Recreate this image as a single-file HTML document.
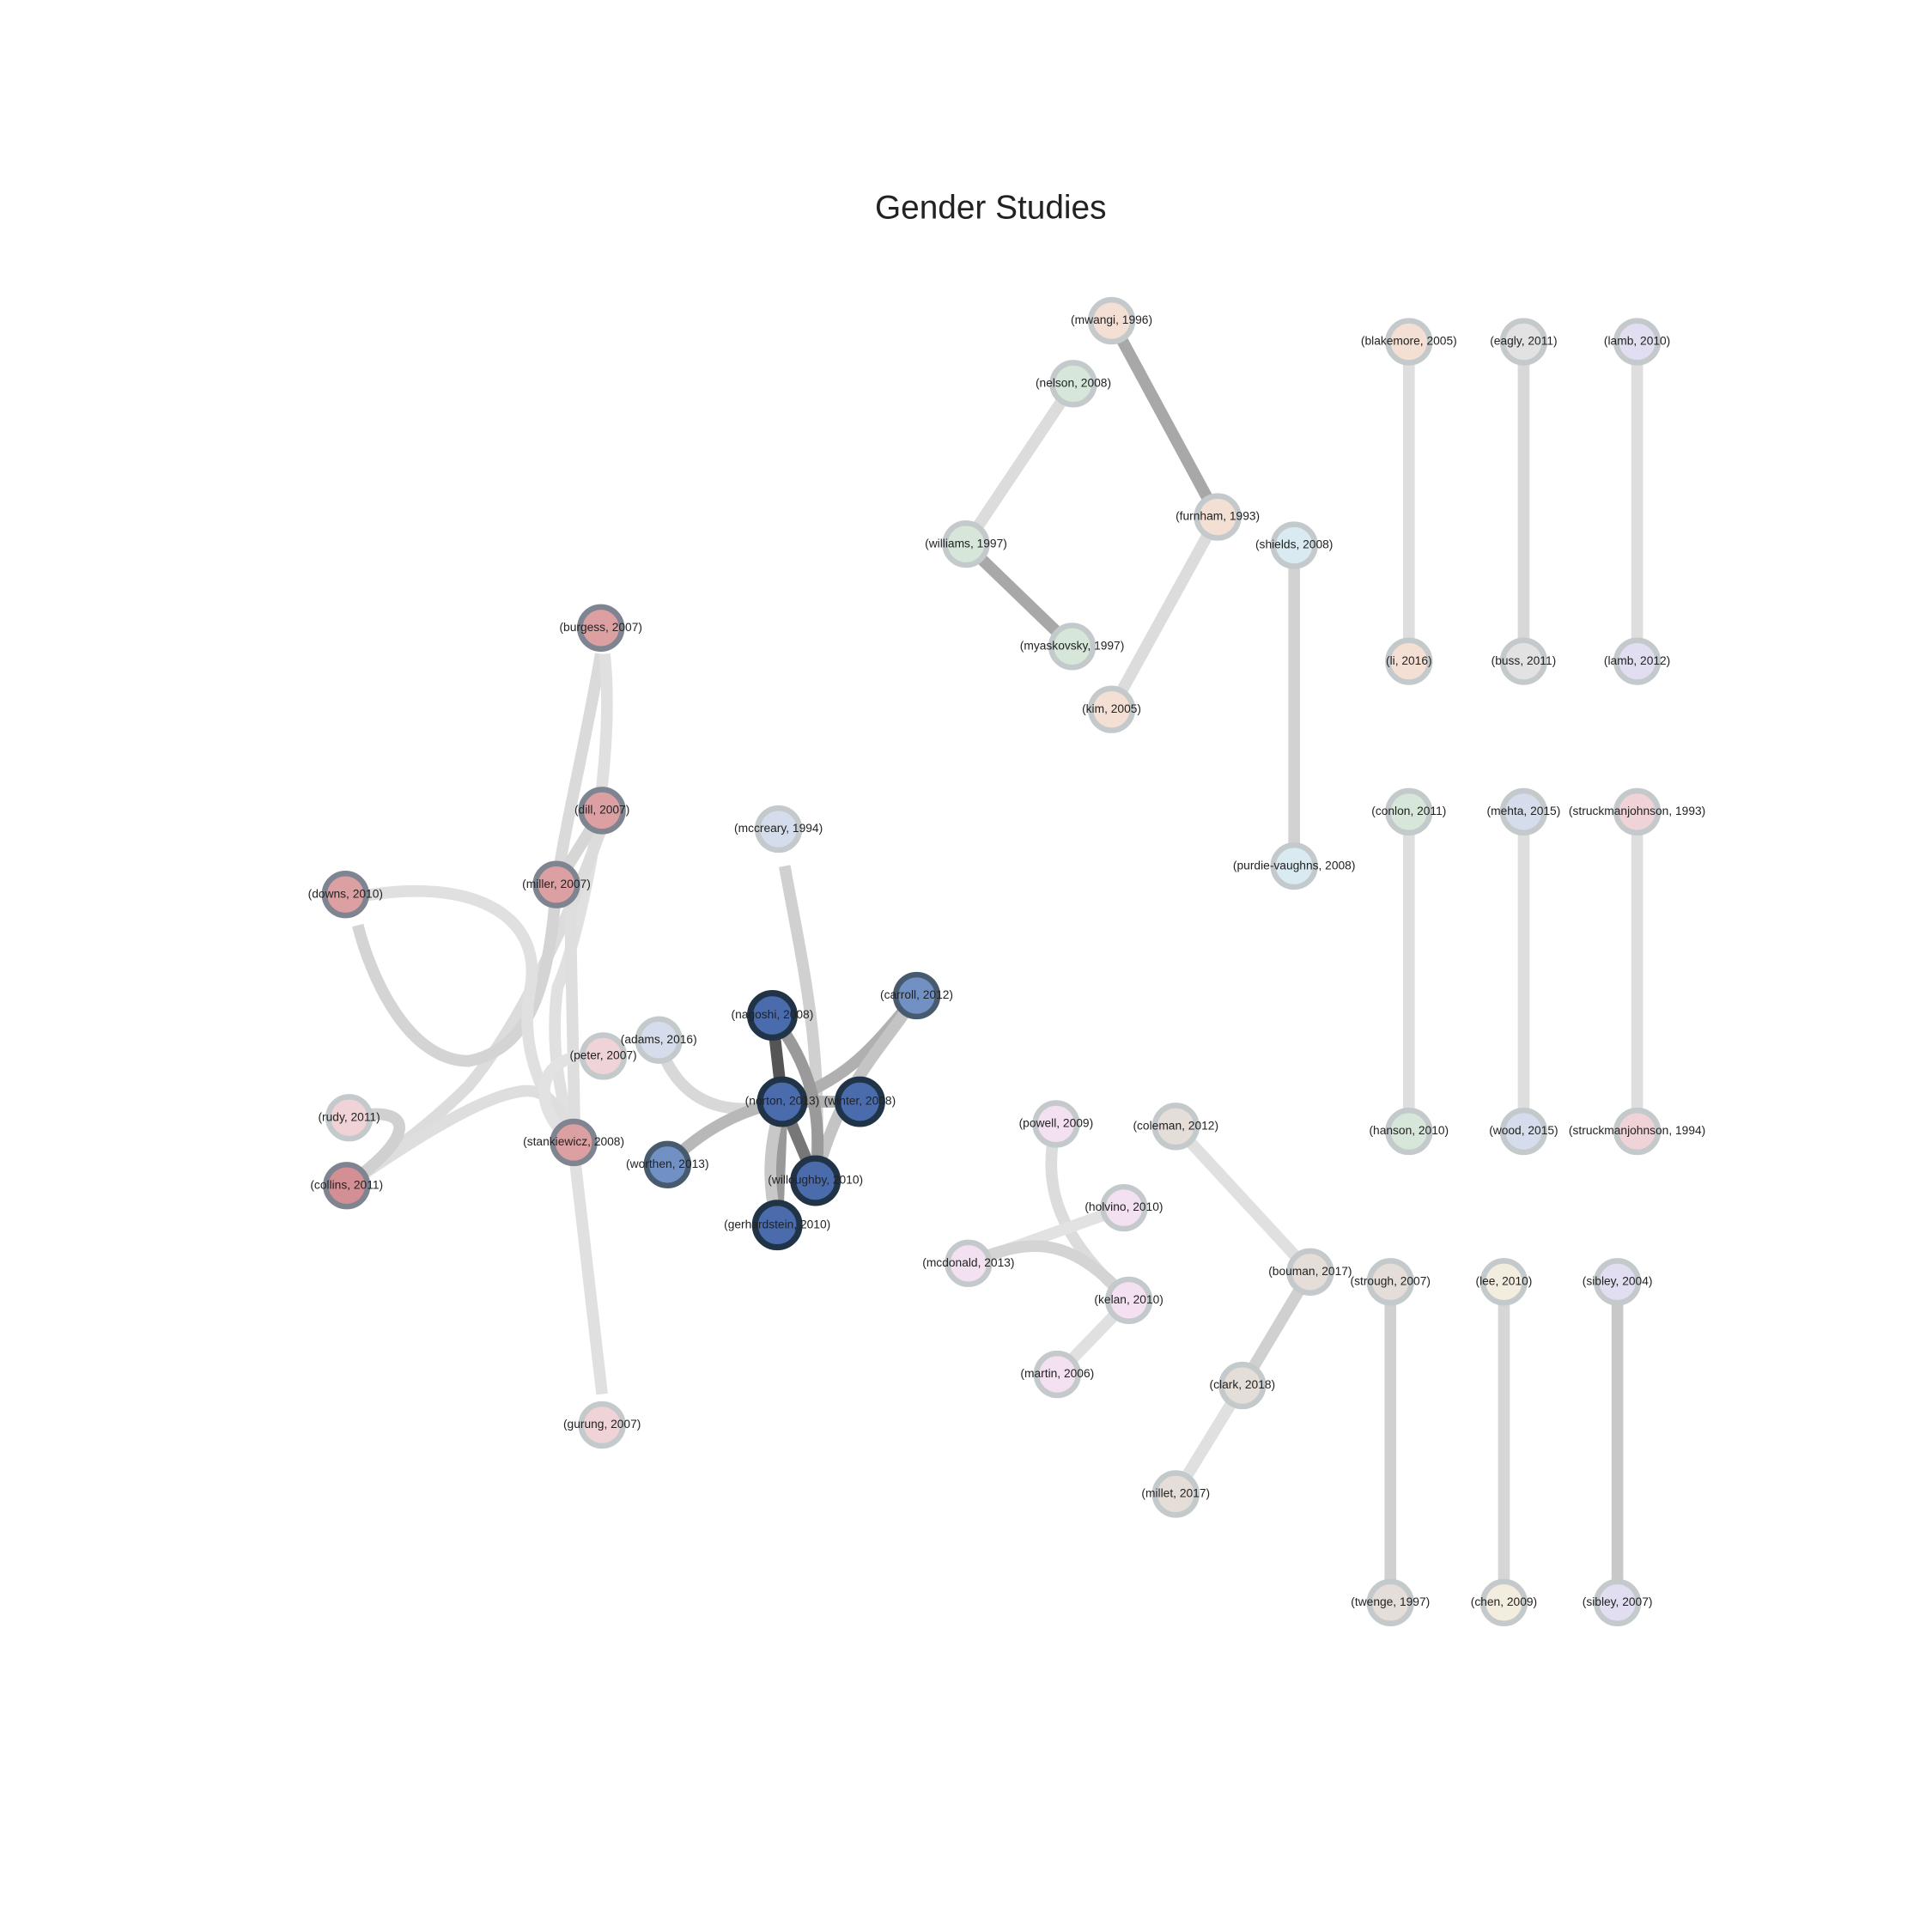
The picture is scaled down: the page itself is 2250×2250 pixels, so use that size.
<!DOCTYPE html>
<html><head><meta charset="utf-8"><style>
html,body{margin:0;padding:0;background:#fff;width:2250px;height:2250px;overflow:hidden}
svg{display:block}
text{font-family:"Liberation Sans",sans-serif;fill:#222}
.l{font-size:9.6px;text-anchor:middle;dominant-baseline:middle}
.e{fill:none;stroke-linecap:butt}
</style></head><body>
<svg width="2250" height="2250" viewBox="0 0 1566 1566" xmlns="http://www.w3.org/2000/svg">
<text x="803" y="170" font-size="27" text-anchor="middle" dominant-baseline="middle">Gender Studies</text>
<g class="e" stroke-width="9.5">
<line x1="901" y1="260" x2="987" y2="419" stroke="#a8a8a8"/>
<line x1="870" y1="311" x2="783" y2="441" stroke="#dcdcdc"/>
<line x1="783" y1="441" x2="869" y2="524" stroke="#a8a8a8"/>
<line x1="987" y1="419" x2="901" y2="575" stroke="#dcdcdc"/>
<line x1="1049" y1="442" x2="1049" y2="702" stroke="#d2d2d2"/>
<line x1="1142" y1="277" x2="1142" y2="536" stroke="#dedede"/>
<line x1="1235" y1="277" x2="1235" y2="536" stroke="#d8d8d8"/>
<line x1="1327" y1="277" x2="1327" y2="536" stroke="#dedede"/>
<line x1="1142" y1="658" x2="1142" y2="917" stroke="#dedede"/>
<line x1="1235" y1="658" x2="1235" y2="917" stroke="#dedede"/>
<line x1="1327" y1="658" x2="1327" y2="917" stroke="#dedede"/>
<line x1="1127" y1="1039" x2="1127" y2="1299" stroke="#d0d0d0"/>
<line x1="1219" y1="1039" x2="1219" y2="1299" stroke="#d6d6d6"/>
<line x1="1311" y1="1039" x2="1311" y2="1299" stroke="#c8c8c8"/>
<line x1="953" y1="913" x2="1062" y2="1031" stroke="#e0e0e0"/>
<line x1="1062" y1="1031" x2="1007" y2="1123" stroke="#d0d0d0"/>
<line x1="1007" y1="1123" x2="953" y2="1211" stroke="#e0e0e0"/>
<path d="M856,911 C845,960 855,1000 915,1054" stroke="#dcdcdc"/>
<line x1="785" y1="1024" x2="911" y2="979" stroke="#e2e2e2"/>
<path d="M785,1024 C840,1000 870,1005 915,1054" stroke="#d4d4d4"/>
<line x1="857" y1="1114" x2="915" y2="1054" stroke="#e0e0e0"/>
<path d="M487,530 C475,600 460,660 451,717" stroke="#dadada"/>
<path d="M490,530 C500,620 470,760 452,800 C445,850 455,890 465,926" stroke="#e0e0e0"/>
<line x1="488" y1="657" x2="451" y2="717" stroke="#d6d6d6"/>
<path d="M488,670 C470,720 430,820 380,880 C340,920 300,945 281,961" stroke="#dcdcdc"/>
<path d="M451,717 C445,800 430,850 380,860 C330,860 300,790 290,750" stroke="#d4d4d4"/>
<path d="M290,727 C380,710 440,740 430,800 C420,850 440,890 465,926" stroke="#e0e0e0"/>
<line x1="462" y1="730" x2="466" y2="926" stroke="#dedede"/>
<path d="M281,961 C340,920 390,890 420,885 C445,880 455,900 465,926" stroke="#dedede"/>
<path d="M283,906 C330,895 345,915 281,961" stroke="#d0d0d0"/>
<path d="M489,856 C430,850 430,900 465,926" stroke="#e2e2e2"/>
<line x1="466" y1="940" x2="488" y2="1130" stroke="#e0e0e0"/>
<path d="M636,702 C650,780 668,850 661,957" stroke="#d0d0d0"/>
<path d="M540,860 C560,900 600,905 634,893" stroke="#d8d8d8"/>
<path d="M541,944 C570,915 600,900 634,893" stroke="#b8b8b8"/>
<path d="M743,807 C710,845 690,875 634,893" stroke="#b0b0b0"/>
<path d="M743,807 C715,850 680,880 661,957" stroke="#c4c4c4"/>
<line x1="634" y1="893" x2="697" y2="893" stroke="#b0b0b0"/>
<line x1="626" y1="823" x2="634" y2="893" stroke="#555"/>
<path d="M626,823 C655,860 668,900 661,957" stroke="#9a9a9a"/>
<line x1="634" y1="893" x2="661" y2="957" stroke="#777"/>
<line x1="634" y1="893" x2="630" y2="993" stroke="#999"/>
<path d="M634,893 C622,930 622,960 630,993" stroke="#c8c8c8"/>
</g>
<g stroke-width="4.5">
<g stroke="#c4c9cc"><circle cx="901" cy="260" r="17" fill="#f3dfd3"/><circle cx="870" cy="311" r="17" fill="#d6e7d9"/><circle cx="987" cy="419" r="17" fill="#f3dfd3"/><circle cx="783" cy="441" r="17" fill="#d6e7d9"/><circle cx="1049" cy="442" r="17" fill="#d9ebf1"/><circle cx="869" cy="524" r="17" fill="#d6e7d9"/><circle cx="901" cy="575" r="17" fill="#f3dfd3"/>
<circle cx="1142" cy="277" r="17" fill="#f3dfd3"/><circle cx="1142" cy="536" r="17" fill="#f3dfd3"/><circle cx="1235" cy="277" r="17" fill="#e2e2e2"/><circle cx="1235" cy="536" r="17" fill="#e2e2e2"/><circle cx="1327" cy="277" r="17" fill="#e0def0"/><circle cx="1327" cy="536" r="17" fill="#e0def0"/>
<circle cx="1049" cy="702" r="17" fill="#d9ebf1"/><circle cx="1142" cy="658" r="17" fill="#d6e7d9"/><circle cx="1142" cy="917" r="17" fill="#d6e7d9"/><circle cx="1235" cy="658" r="17" fill="#d5ddec"/><circle cx="1235" cy="917" r="17" fill="#d5ddec"/><circle cx="1327" cy="658" r="17" fill="#f0d3d6"/><circle cx="1327" cy="917" r="17" fill="#f0d3d6"/>
<circle cx="856" cy="911" r="17" fill="#f3e0f0"/><circle cx="953" cy="913" r="17" fill="#e5ddd8"/><circle cx="911" cy="979" r="17" fill="#f3e0f0"/><circle cx="785" cy="1024" r="17" fill="#f3e0f0"/><circle cx="1062" cy="1031" r="17" fill="#e5ddd8"/><circle cx="915" cy="1054" r="17" fill="#f3e0f0"/><circle cx="857" cy="1114" r="17" fill="#f3e0f0"/><circle cx="1007" cy="1123" r="17" fill="#e5ddd8"/><circle cx="953" cy="1211" r="17" fill="#e5ddd8"/>
<circle cx="1127" cy="1039" r="17" fill="#e5ddd8"/><circle cx="1127" cy="1299" r="17" fill="#e5ddd8"/><circle cx="1219" cy="1039" r="17" fill="#f3ede0"/><circle cx="1219" cy="1299" r="17" fill="#f3ede0"/><circle cx="1311" cy="1039" r="17" fill="#e0def0"/><circle cx="1311" cy="1299" r="17" fill="#e0def0"/>
<circle cx="489" cy="856" r="17" fill="#f0d3d6"/><circle cx="283" cy="906" r="17" fill="#f0d3d6"/><circle cx="488" cy="1155" r="17" fill="#f0d3d6"/><circle cx="534" cy="843" r="17" fill="#d5ddec"/><circle cx="631" cy="672" r="17" fill="#d5ddec"/></g>
<g stroke="#7e8590" fill="#dc9fa2"><circle cx="487" cy="509" r="17"/><circle cx="488" cy="657" r="17"/><circle cx="451" cy="717" r="17"/><circle cx="280" cy="725" r="17"/><circle cx="465" cy="926" r="17"/><circle cx="281" cy="961" r="17" fill="#d48f95"/></g>
<g stroke="#475a6e" fill="#7190c4"><circle cx="743" cy="807" r="17"/><circle cx="541" cy="944" r="17"/></g>
<g stroke="#213447" fill="#4a6cad" stroke-width="5"><circle cx="626" cy="823" r="18"/><circle cx="634" cy="893" r="18"/><circle cx="697" cy="893" r="18"/><circle cx="661" cy="957" r="18"/><circle cx="630" cy="993" r="18"/></g>
</g>
<g class="l">
<text x="901" y="260">(mwangi, 1996)</text><text x="870" y="311">(nelson, 2008)</text><text x="987" y="419">(furnham, 1993)</text><text x="783" y="441">(williams, 1997)</text><text x="1049" y="442">(shields, 2008)</text><text x="869" y="524">(myaskovsky, 1997)</text><text x="901" y="575">(kim, 2005)</text>
<text x="1142" y="277">(blakemore, 2005)</text><text x="1142" y="536">(li, 2016)</text><text x="1235" y="277">(eagly, 2011)</text><text x="1235" y="536">(buss, 2011)</text><text x="1327" y="277">(lamb, 2010)</text><text x="1327" y="536">(lamb, 2012)</text>
<text x="1049" y="702">(purdie-vaughns, 2008)</text><text x="1142" y="658">(conlon, 2011)</text><text x="1142" y="917">(hanson, 2010)</text><text x="1235" y="658">(mehta, 2015)</text><text x="1235" y="917">(wood, 2015)</text><text x="1327" y="658">(struckmanjohnson, 1993)</text><text x="1327" y="917">(struckmanjohnson, 1994)</text>
<text x="856" y="911">(powell, 2009)</text><text x="953" y="913">(coleman, 2012)</text><text x="911" y="979">(holvino, 2010)</text><text x="785" y="1024">(mcdonald, 2013)</text><text x="1062" y="1031">(bouman, 2017)</text><text x="915" y="1054">(kelan, 2010)</text><text x="857" y="1114">(martin, 2006)</text><text x="1007" y="1123">(clark, 2018)</text><text x="953" y="1211">(millet, 2017)</text>
<text x="1127" y="1039">(strough, 2007)</text><text x="1127" y="1299">(twenge, 1997)</text><text x="1219" y="1039">(lee, 2010)</text><text x="1219" y="1299">(chen, 2009)</text><text x="1311" y="1039">(sibley, 2004)</text><text x="1311" y="1299">(sibley, 2007)</text>
<text x="487" y="509">(burgess, 2007)</text><text x="488" y="657">(dill, 2007)</text><text x="451" y="717">(miller, 2007)</text><text x="280" y="725">(downs, 2010)</text><text x="489" y="856">(peter, 2007)</text><text x="534" y="843">(adams, 2016)</text><text x="631" y="672">(mccreary, 1994)</text>
<text x="626" y="823">(nagoshi, 2008)</text><text x="743" y="807">(carroll, 2012)</text><text x="634" y="893">(norton, 2013)</text><text x="697" y="893">(winter, 2008)</text><text x="541" y="944">(worthen, 2013)</text><text x="661" y="957">(willoughby, 2010)</text><text x="630" y="993">(gerhardstein, 2010)</text>
<text x="465" y="926">(stankiewicz, 2008)</text><text x="283" y="906">(rudy, 2011)</text><text x="281" y="961">(collins, 2011)</text><text x="488" y="1155">(gurung, 2007)</text>
</g>
</svg>
</body></html>
